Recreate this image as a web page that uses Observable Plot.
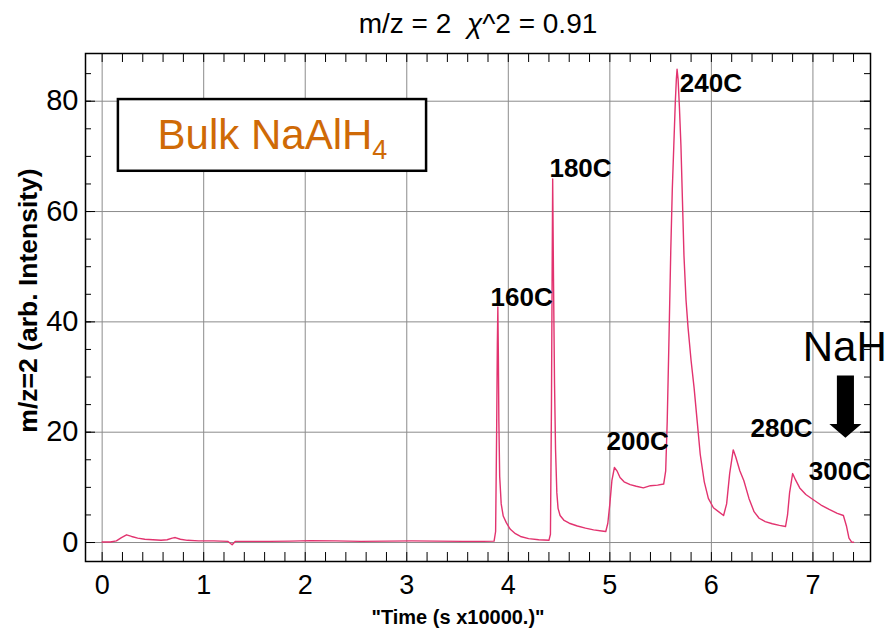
<!DOCTYPE html>
<html>
<head>
<meta charset="utf-8">
<script src="https://cdn.jsdelivr.net/npm/d3@7"></script>
<script src="https://cdn.jsdelivr.net/npm/@observablehq/plot@0.6"></script>
<style>
  html, body { margin: 0; padding: 0; background: #fff; }
  #chart svg { display: block; }
</style>
</head>
<body>
<div id="chart"></div>
<script>
// H2 (m/z = 2) mass-spec trace during stepwise heating of bulk NaAlH4
const time = [
  0.00, 0.08, 0.14, 0.19, 0.24, 0.29, 0.35, 0.42, 0.50, 0.58, 0.64, 0.69, 0.72, 0.77, 0.84, 0.95,
  1.10, 1.24, 1.28, 1.31, 1.45, 1.65, 1.85, 2.05, 2.30, 2.55, 2.80, 3.05, 3.30, 3.55, 3.75, 3.86,
  3.875, 3.885, 3.892, 3.897, 3.902, 3.907, 3.915, 3.93, 3.95, 3.98, 4.02, 4.07, 4.12, 4.20, 4.30, 4.40,
  4.415, 4.425, 4.432, 4.437, 4.445, 4.455, 4.465, 4.478, 4.49, 4.51, 4.55, 4.60, 4.68, 4.76, 4.84, 4.92,
  4.96, 4.98, 5.00, 5.02, 5.045, 5.07, 5.10, 5.14, 5.20, 5.26, 5.33, 5.40, 5.47, 5.53, 5.55, 5.565,
  5.58, 5.60, 5.615, 5.63, 5.645, 5.655, 5.662, 5.672, 5.685, 5.70, 5.715, 5.73, 5.75, 5.77, 5.80, 5.83,
  5.86, 5.89, 5.93, 5.97, 6.02, 6.07, 6.12, 6.15, 6.18, 6.215, 6.24, 6.28, 6.32, 6.37, 6.42, 6.47,
  6.53, 6.60, 6.67, 6.73, 6.75, 6.77, 6.80, 6.83, 6.87, 6.93, 7.00, 7.08, 7.16, 7.24, 7.30, 7.33,
  7.355, 7.38, 7.40
];
const intensity = [
  0.10, 0.10, 0.30, 0.90, 1.40, 1.10, 0.80, 0.60, 0.50, 0.40, 0.50, 0.80, 0.90, 0.60, 0.40, 0.30,
  0.30, 0.20, -0.40, 0.20, 0.20, 0.20, 0.25, 0.35, 0.30, 0.20, 0.25, 0.30, 0.25, 0.20, 0.20, 0.25,
  2.0, 20.0, 36.0, 42.7, 34.0, 22.0, 12.0, 7.0, 4.8, 3.6, 2.4, 1.6, 1.1, 0.7, 0.5, 0.4,
  1.5, 25.0, 50.0, 65.9, 48.0, 29.0, 17.0, 9.0, 6.2, 4.9, 4.0, 3.5, 3.0, 2.6, 2.3, 2.1,
  2.0, 3.5, 7.0, 11.2, 13.6, 13.0, 11.8, 11.0, 10.5, 10.2, 9.9, 10.3, 10.4, 10.6, 13.0, 22.0,
  34.8, 52.9, 64.0, 72.0, 80.0, 84.0, 85.8, 84.0, 79.0, 72.0, 62.0, 52.0, 44.0, 39.0, 33.0, 28.0,
  22.0, 16.0, 11.0, 8.0, 6.3, 5.6, 4.9, 7.0, 12.5, 16.8, 15.5, 13.0, 11.2, 8.0, 5.6, 4.4,
  3.8, 3.4, 3.1, 2.9, 5.0, 9.0, 12.5, 11.3, 9.9, 8.7, 7.8, 6.8, 6.0, 5.3, 4.9, 3.0,
  0.8, 0.1, 0.05
];

// Temperature-step labels, anchored at their left edge
const peakLabels = ["160C", "180C", "200C", "240C", "280C", "300C"];
const peakLabelX = [3.825, 4.405, 4.967, 5.689, 6.385, 6.96];
const peakLabelY = [44.4, 67.8, 18.2, 83.2, 20.6, 12.9];

// Sample tag and NaH marker
const sampleLabel = "Bulk NaAlH4";
const sampleBox = {x1: 0.16, x2: 3.195, y1: 67.3, y2: 80.3};
const nahLabel = {text: "NaH", x: 6.90, y: 35.4};
const nahArrow = {x: 7.32, tailY: 30.3, neckY: 21.5, tipY: 19.0, shaftHalf: 0.084, headHalf: 0.158};

// Axis ticks
const xTickValues = [0, 1, 2, 3, 4, 5, 6, 7];
const yTickValues = [0, 20, 40, 60, 80];
const xMinorTicks = d3.range(0, 38).map(i => +(i * 0.2).toFixed(1));
const yMinorTicks = d3.range(0, 18).map(i => i * 5);

const W = 886, H = 632;
const margin = {top: 53, right: 16, bottom: 71, left: 85};
const frameW = W - margin.left - margin.right;
const frameH = H - margin.top - margin.bottom;

const arrowShape = [
  {x: nahArrow.x - nahArrow.shaftHalf, y: nahArrow.tailY},
  {x: nahArrow.x + nahArrow.shaftHalf, y: nahArrow.tailY},
  {x: nahArrow.x + nahArrow.shaftHalf, y: nahArrow.neckY},
  {x: nahArrow.x + nahArrow.headHalf, y: nahArrow.neckY},
  {x: nahArrow.x, y: nahArrow.tipY},
  {x: nahArrow.x - nahArrow.headHalf, y: nahArrow.neckY},
  {x: nahArrow.x - nahArrow.shaftHalf, y: nahArrow.neckY}
];

const gridColor = "#8c8c8c";
const traceColor = "#e2336f";
const titleText = "m/z = 2\u00a0\u00a0χ^2 = 0.91";

const chart = Plot.plot({
  width: W,
  height: H,
  marginTop: margin.top,
  marginRight: margin.right,
  marginBottom: margin.bottom,
  marginLeft: margin.left,
  style: {fontFamily: "'Liberation Sans', Arial, sans-serif", background: "#fff", color: "#000"},
  x: {domain: [-0.164, 7.567]},
  y: {domain: [-3.44, 88.65]},
  marks: [
    Plot.gridX(xTickValues, {stroke: gridColor, strokeOpacity: 1, strokeWidth: 1}),
    Plot.gridY(yTickValues, {stroke: gridColor, strokeOpacity: 1, strokeWidth: 1}),

    // sample tag box
    Plot.rect([sampleBox], {x1: "x1", x2: "x2", y1: "y1", y2: "y2", fill: "#fff", stroke: "#000", strokeWidth: 2.5}),
    Plot.text([sampleLabel], {
      x: (sampleBox.x1 + sampleBox.x2) / 2, y: (sampleBox.y1 + sampleBox.y2) / 2,
      text: d => d, fontSize: 42, fill: "#cf6a06", textAnchor: "middle", lineAnchor: "middle"
    }),

    // intensity trace
    Plot.line(intensity, {x: time, y: intensity, stroke: traceColor, strokeWidth: 1.4, strokeLinejoin: "round"}),

    // inward frame ticks
    Plot.tickX(xMinorTicks, {x: d => d, insetTop: frameH - 9, stroke: "#000"}),
    Plot.tickX(xMinorTicks, {x: d => d, insetBottom: frameH - 9, stroke: "#000"}),
    Plot.tickY(yMinorTicks, {y: d => d, insetRight: frameW - 6, stroke: "#000"}),
    Plot.tickY(yTickValues, {y: d => d, insetRight: frameW - 10, stroke: "#000"}),
    Plot.tickY(yMinorTicks, {y: d => d, insetLeft: frameW - 6, stroke: "#000"}),
    Plot.tickY(yTickValues, {y: d => d, insetLeft: frameW - 10, stroke: "#000"}),
    Plot.frame({stroke: "#000", strokeWidth: 1.5}),

    // tick labels
    Plot.axisX(xTickValues, {tickSize: 0, tickPadding: 13, fontSize: 27, label: null, tickFormat: d => String(d)}),
    Plot.axisY(yTickValues, {tickSize: 0, tickPadding: 7, fontSize: 29, label: null, tickFormat: d => String(d)}),

    // chart title and axis titles
    Plot.text([titleText], {frameAnchor: "top", dy: -29, text: d => d, fontSize: 28, textAnchor: "middle", lineAnchor: "middle"}),
    Plot.text(["\"Time (s x10000.)\""], {frameAnchor: "bottom", dx: -20, dy: 56, text: d => d, fontSize: 20, fontWeight: "bold", textAnchor: "middle", lineAnchor: "middle"}),
    Plot.text(["m/z=2 (arb. Intensity)"], {frameAnchor: "left", dx: -57, dy: -7, rotate: -90, text: d => d, fontSize: 26.5, fontWeight: "bold", textAnchor: "middle", lineAnchor: "middle"}),

    // temperature labels
    Plot.text(peakLabels, {x: peakLabelX, y: peakLabelY, text: d => d, textAnchor: "start", lineAnchor: "middle", fontSize: 26, fontWeight: "bold", fill: "#000"}),

    // NaH marker
    Plot.text([nahLabel], {x: "x", y: "y", text: "text", textAnchor: "start", lineAnchor: "middle", fontSize: 42, fill: "#000"}),
    Plot.line(arrowShape, {x: "x", y: "y", fill: "#000", stroke: "none"})
  ]
});

// rich text: italic chi in the title, subscript in the sample tag
const svgNS = "http://www.w3.org/2000/svg";
for (const t of chart.querySelectorAll("text")) {
  const s = t.textContent;
  if (s === titleText) {
    t.textContent = "";
    for (const [str, style] of [["m/z = 2\u00a0\u00a0", null], ["χ", "italic"], ["^2 = 0.91", null]]) {
      const ts = document.createElementNS(svgNS, "tspan");
      ts.textContent = str;
      if (style) ts.setAttribute("font-style", style);
      t.appendChild(ts);
    }
  } else if (s === sampleLabel) {
    t.textContent = "";
    const a = document.createElementNS(svgNS, "tspan");
    a.textContent = "Bulk NaAlH";
    const b = document.createElementNS(svgNS, "tspan");
    b.textContent = "4";
    b.setAttribute("font-size", "27");
    b.setAttribute("dy", "10");
    t.appendChild(a);
    t.appendChild(b);
  }
}

document.getElementById("chart").appendChild(chart);
</script>
</body>
</html>
